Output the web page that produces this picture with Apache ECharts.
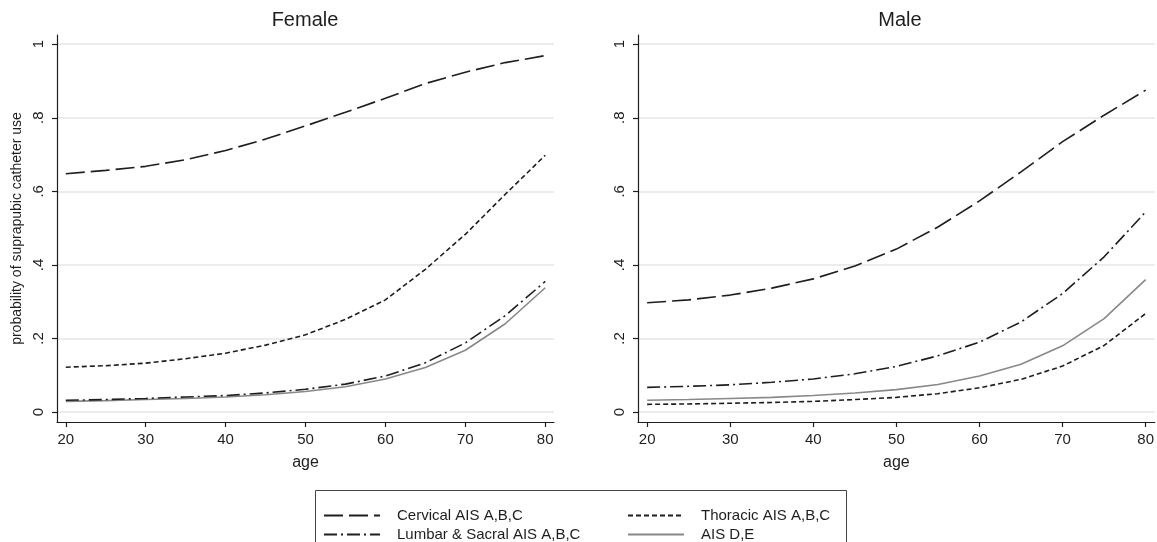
<!DOCTYPE html>
<html>
<head>
<meta charset="utf-8">
<script src="https://cdn.jsdelivr.net/npm/echarts@6/dist/echarts.min.js"></script>
<style>
html, body { margin: 0; padding: 0; background: #fff; }
#main { width: 1157px; height: 542px; }
</style>
</head>
<body>
<div id="main"></div>
<script>
// ages the predictions were made at
var ages = [20, 25, 30, 35, 40, 45, 50, 55, 60, 65, 70, 75, 80];

// female panel
var femCervical = [.648, .657, .668, .686, .711, .742, .778, .815, .853, .893, .924, .950, .969];
var femThoracic = [.122, .126, .133, .145, .160, .182, .210, .252, .305, .388, .483, .592, .698];
var femLumbar   = [.032, .034, .037, .041, .045, .052, .062, .076, .098, .134, .188, .262, .355];
var femAisDE    = [.029, .031, .034, .037, .041, .047, .056, .069, .090, .121, .168, .240, .338];

// male panel
var maleCervical = [.297, .305, .318, .337, .362, .397, .443, .503, .574, .653, .735, .807, .875];
var maleThoracic = [.021, .022, .024, .026, .029, .034, .040, .050, .066, .089, .125, .181, .268];
var maleLumbar   = [.067, .070, .074, .081, .090, .104, .124, .153, .190, .245, .322, .422, .544];
var maleAisDE    = [.032, .034, .037, .040, .045, .052, .061, .075, .098, .130, .180, .254, .360];

var xTicks = [20, 30, 40, 50, 60, 70, 80];
var yTicks = [0, 0.2, 0.4, 0.6, 0.8, 1];

var names = ['Cervical AIS A,B,C', 'Thoracic AIS A,B,C', 'Lumbar & Sacral AIS A,B,C', 'AIS D,E'];

function pairs(vals) {
    var out = [];
    for (let i = 0; i < ages.length; i++) {
        out.push([ages[i], vals[i]]);
    }
    return out;
}

var font = '"Liberation Sans", Arial, sans-serif';
var ink = '#1e1e1e';

function lineFor(idx) {
    if (idx == 0) return { color: ink, width: 1.6, type: [19, 6] };
    if (idx == 1) return { color: ink, width: 1.6, type: [5, 3] };
    if (idx == 2) return { color: ink, width: 1.6, type: [13, 4, 2, 4] };
    return { color: '#888', width: 1.6, type: 'solid' };
}

function makeSeries(name, idx, vals, panel) {
    var ls = lineFor(idx);
    return {
        name: name,
        type: 'line',
        xAxisIndex: panel,
        yAxisIndex: panel,
        data: pairs(vals),
        symbol: 'none',
        showSymbol: false,
        smooth: false,
        color: ls.color,
        lineStyle: ls,
        z: idx == 3 ? 2 : 3,
        animation: false
    };
}

function xAxisFor(panel) {
    return {
        type: 'value',
        gridIndex: panel,
        min: 18.9,
        max: 81.1,
        name: 'age',
        nameLocation: 'middle',
        nameGap: 33,
        nameTextStyle: { fontFamily: font, fontSize: 16, color: ink },
        axisLine: { show: true, onZero: false, lineStyle: { color: ink, width: 1.2 } },
        axisTick: { show: true, length: 5, customValues: xTicks, lineStyle: { color: ink, width: 1.2 } },
        axisLabel: { customValues: xTicks, margin: 10, fontFamily: font, fontSize: 15, color: ink },
        splitLine: { show: false }
    };
}

function yAxisFor(panel) {
    var ax = {
        type: 'value',
        gridIndex: panel,
        min: -0.027,
        max: 1.025,
        axisLine: { show: true, onZero: false, lineStyle: { color: ink, width: 1.2 } },
        axisTick: { show: true, length: 5, customValues: yTicks, lineStyle: { color: ink, width: 1.2 } },
        axisLabel: {
            customValues: yTicks,
            rotate: 90,
            margin: 11,
            fontFamily: font,
            fontSize: 15,
            color: ink,
            formatter: function (v) {
                if (Math.abs(v) < 1e-9) return '0';
                if (Math.abs(v - 1) < 1e-9) return '1';
                return '.' + Math.round(v * 10);
            }
        },
        splitLine: { show: true, lineStyle: { color: '#ececec', width: 2 } }
    };
    if (panel == 0) {
        ax.name = 'probability of suprapubic catheter use';
        ax.nameLocation = 'middle';
        ax.nameGap = 33;
        ax.nameRotate = 90;
        ax.nameTextStyle = { fontFamily: font, fontSize: 14, color: ink };
    }
    return ax;
}

function legendItem(name, left, top) {
    return {
        data: [name],
        orient: 'vertical',
        left: left,
        top: top,
        padding: 0,
        itemWidth: 56,
        itemHeight: 14,
        selectedMode: false,
        itemStyle: { opacity: 0 },
        textStyle: { fontFamily: font, fontSize: 15, color: ink, padding: [0, 0, 0, 12] }
    };
}

var myChart = echarts.init(document.getElementById('main'), null, { renderer: 'canvas' });

var option = {
    backgroundColor: '#fff',
    animation: false,
    title: [
        { text: 'Female', left: 305, top: 10, padding: 0, textAlign: 'center',
          textStyle: { fontFamily: font, fontSize: 20, fontWeight: 'normal', color: ink } },
        { text: 'Male', left: 900, top: 10, padding: 0, textAlign: 'center',
          textStyle: { fontFamily: font, fontSize: 20, fontWeight: 'normal', color: ink } }
    ],
    grid: [
        { left: 57, top: 35, width: 497, height: 387, containLabel: false },
        { left: 638, top: 35, width: 524, height: 387, containLabel: false }
    ],
    xAxis: [xAxisFor(0), xAxisFor(1)],
    yAxis: [yAxisFor(0), yAxisFor(1)],
    legend: [
        legendItem(names[0], 323, 508),
        legendItem(names[2], 323, 527),
        legendItem(names[1], 627, 508),
        legendItem(names[3], 627, 527)
    ],
    graphic: [
        {
            type: 'rect',
            shape: { x: 315.5, y: 490.5, width: 531, height: 80 },
            style: { fill: 'none', stroke: '#444', lineWidth: 1 },
            silent: true
        }
    ],
    series: [
        makeSeries(names[0], 0, femCervical, 0),
        makeSeries(names[1], 1, femThoracic, 0),
        makeSeries(names[2], 2, femLumbar, 0),
        makeSeries(names[3], 3, femAisDE, 0),
        makeSeries(names[0], 0, maleCervical, 1),
        makeSeries(names[1], 1, maleThoracic, 1),
        makeSeries(names[2], 2, maleLumbar, 1),
        makeSeries(names[3], 3, maleAisDE, 1)
    ]
};

myChart.setOption(option);
window.addEventListener('resize', function () {
    myChart.resize();
});
</script>
</body>
</html>
